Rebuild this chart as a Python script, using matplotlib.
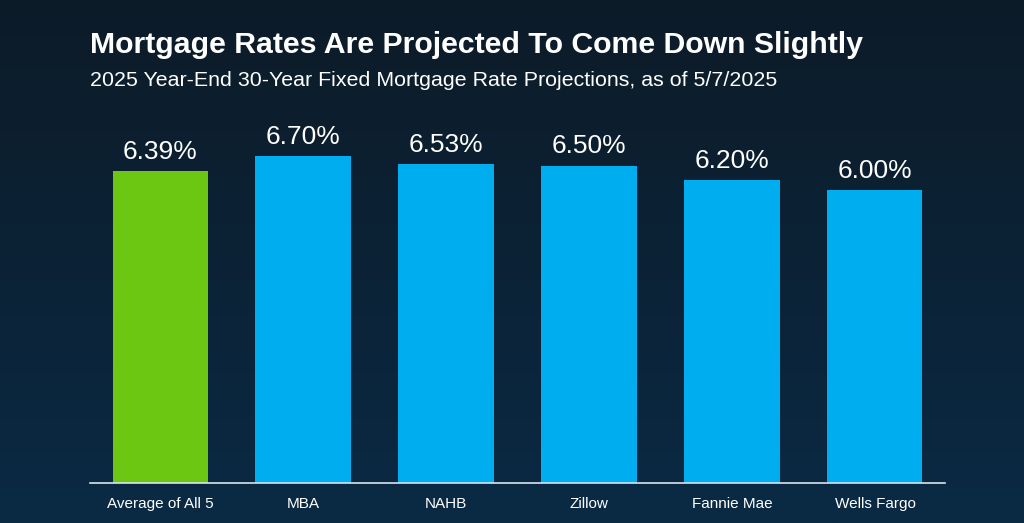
import matplotlib.pyplot as plt
import numpy as np

categories = ["Average of All 5", "MBA", "NAHB", "Zillow", "Fannie Mae", "Wells Fargo"]
rates = [6.39, 6.70, 6.53, 6.50, 6.20, 6.00]
labels = ["6.39%", "6.70%", "6.53%", "6.50%", "6.20%", "6.00%"]
colors = ["#6cc712"] + ["#00aeef"] * 5

plt.rcParams['font.family'] = ['Liberation Sans', 'DejaVu Sans']

fig = plt.figure(figsize=(10.24, 5.23), dpi=100)

# background gradient
bg = fig.add_axes([0, 0, 1, 1])
grad = np.linspace(0, 1, 256).reshape(-1, 1)
top = np.array([13, 27, 40]) / 255
bot = np.array([10, 42, 68]) / 255
img = top + (bot - top) * grad[..., None]
bg.imshow(img, aspect='auto', extent=[0, 1, 0, 1])
bg.axis('off')

ax = fig.add_axes([90 / 1024, 1 - 483 / 523, 855 / 1024, 383 / 523])
ax.patch.set_alpha(0)
x = np.arange(len(categories))
ax.bar(x, rates, width=0.665, color=colors)
for xi, r, lab in zip(x, rates, labels):
    ax.text(xi, r + 0.15, lab, ha='center', va='bottom', color='white', fontsize=19)
ax.set_xlim(-0.49, 5.49)
ax.set_ylim(0, 383 / 48.8)
ax.set_yticks([])
ax.set_xticks(x)
ax.set_xticklabels(categories, color='white', fontsize=11)
ax.tick_params(axis='x', length=0, pad=10)
for s in ['top', 'right', 'left']:
    ax.spines[s].set_visible(False)
ax.spines['bottom'].set_color('#d8e4ee')
ax.spines['bottom'].set_linewidth(1.2)

fig.text(90 / 1024, 1 - 45 / 523, "Mortgage Rates Are Projected To Come Down Slightly",
         color='white', fontsize=21.8, fontweight='bold', va='center')
fig.text(90 / 1024, 1 - 80 / 523, "2025 Year-End 30-Year Fixed Mortgage Rate Projections, as of 5/7/2025",
         color='white', fontsize=15.4, va='center')

fig.savefig("out.png", dpi=100)
